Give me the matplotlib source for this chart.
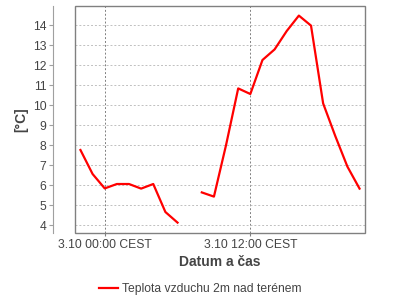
import numpy as np
import pandas as pd
import matplotlib
matplotlib.use("Agg")
import matplotlib.pyplot as plt
import matplotlib.dates as mdates
from matplotlib.patches import Rectangle

# hodinova data 2.10 22:00 - 3.10 21:00 (07:00 chybi)
times = pd.date_range("2023-10-02 22:00", "2023-10-03 21:00", freq="h")
temps = [7.75, 6.55, 5.83, 6.05, 6.05, 5.82, 6.05, 4.65, 4.12, np.nan,
         5.63, 5.42, 8.0, 10.83, 10.55, 12.25, 12.78, 13.7, 14.47, 13.97,
         10.08, 8.45, 6.92, 5.82]
series_name = "Teplota vzduchu 2m nad terénem"
x_ticks = pd.to_datetime(["2023-10-03 00:00", "2023-10-03 12:00"])
y_ticks = list(range(4, 15))

plt.rcParams['font.family'] = ['Liberation Sans', 'DejaVu Sans']
txt = '#444444'

fig = plt.figure(figsize=(4, 3), dpi=100)
ax = fig.add_axes([0.1875, 0.2233, 0.725, 0.7567])

ax.plot(times, temps, color='#ff0000', lw=1.6, label=series_name)

ax.set_xlim(pd.Timestamp("2023-10-02 21:33"), pd.Timestamp("2023-10-03 21:27"))
ax.set_ylim(3.6, 14.95)
ax.set_xticks(x_ticks)
ax.xaxis.set_major_formatter(mdates.DateFormatter("%-d.%m %H:%M CEST"))
ax.set_yticks(y_ticks)

ax.grid(axis='y', color='#c0c0c0', ls=(0, (2, 2)), lw=0.7)
ax.grid(axis='x', color='#808080', ls=(0, (2, 2)), lw=0.7)

for s in ['top', 'right', 'bottom']:
    ax.spines[s].set_visible(False)
ax.spines['left'].set_position(('outward', 15.5))
ax.spines['left'].set_color('#a0a0a0')
ax.add_patch(Rectangle((0, 0), 1, 1, transform=ax.transAxes, fill=False,
                       ec='#808080', lw=1.0, clip_on=False, zorder=5))

ax.tick_params(axis='y', direction='out', length=3, color='#a0a0a0',
               labelsize=8.7, labelcolor=txt, pad=2)
ax.tick_params(axis='x', direction='out', length=2.5, color='#808080',
               labelsize=8.7, labelcolor=txt, pad=2)

ax.set_ylabel("[°C]", fontsize=10, fontweight='bold', color=txt, labelpad=3)
ax.set_xlabel("Datum a čas", fontsize=10, fontweight='bold', color=txt, labelpad=3)

fig.legend(loc='center', bbox_to_anchor=(0.5, 0.037), frameon=False,
           fontsize=8.7, labelcolor=txt, handlelength=1.6, handletextpad=0.3)

fig.savefig("out.png", dpi=100)
